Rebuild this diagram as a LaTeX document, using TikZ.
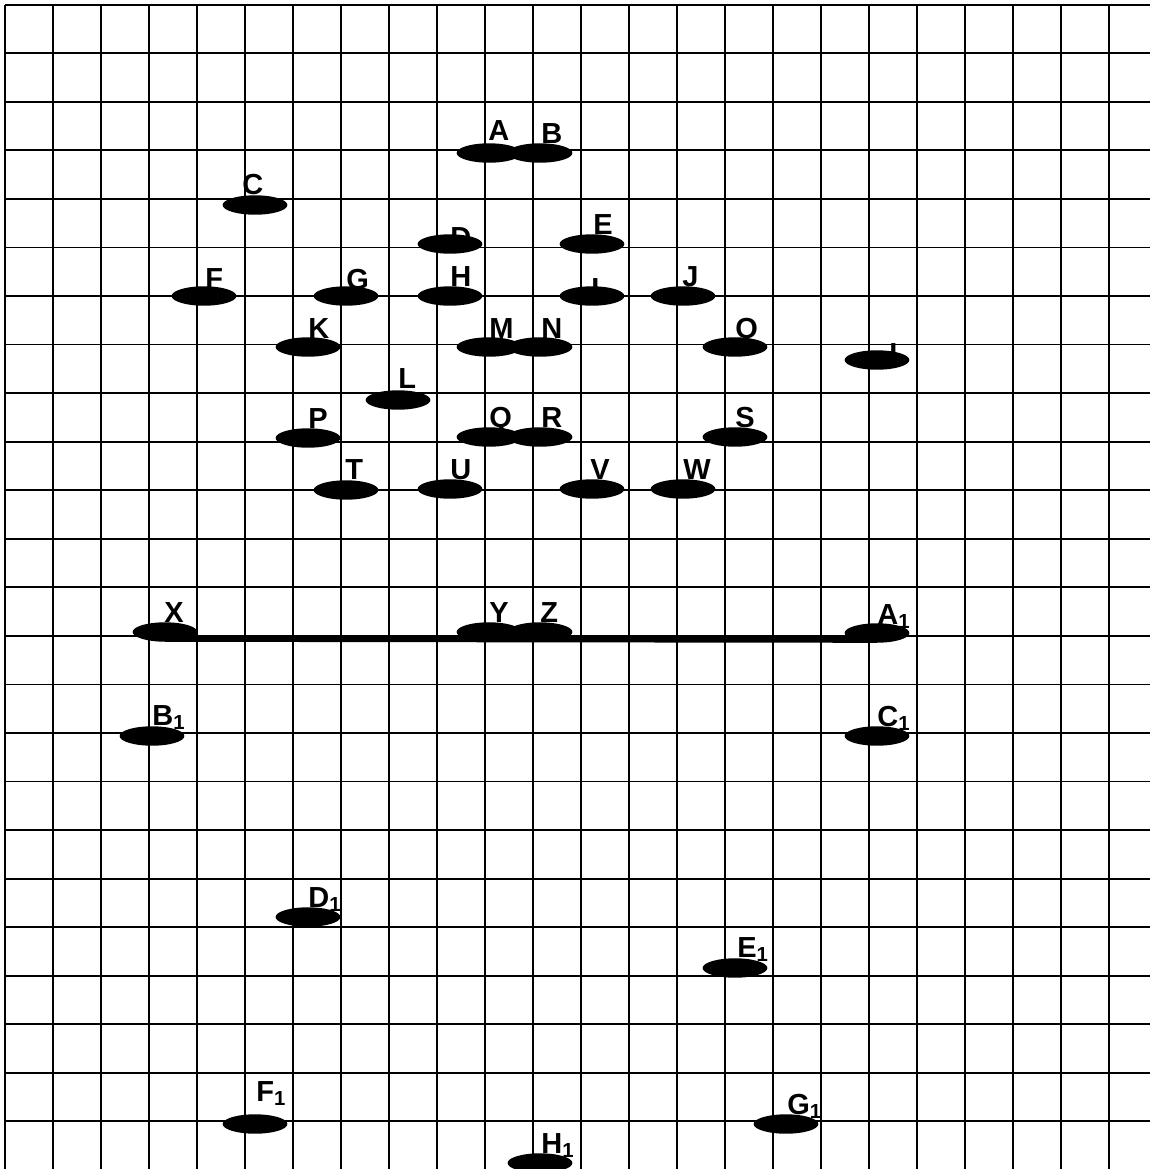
\documentclass[tikz,border=0pt]{standalone}
\usepackage{fontspec}
\setmainfont{Liberation Sans}
\usetikzlibrary{shapes.geometric}

\begin{document}
\begin{tikzpicture}[x=0.5pt, y=-0.5pt,
    gridline/.style={line width=0.9pt},
    spot/.style={draw=none, fill=black, ellipse, inner sep=0pt, minimum width=32.4pt, minimum height=9.7pt},
    spotlabel/.style={anchor=base west, inner sep=0pt, font=\fontsize{14.5}{17}\selectfont\bfseries}]
    \useasboundingbox (0,0) rectangle (1150,1169);
    % grid
    \foreach \i in {0,...,23} \draw[gridline] ({5+48*\i},4.7) -- ({5+48*\i},1172);
    \foreach \j in {0,...,24} \draw[gridline] (5,{4.7+48.55*\j}) -- (1152,{4.7+48.55*\j});

    \node[spotlabel] (A-l) at (488,140) {A};
    \node[spot] (A) at (489,153) {};
    \node[spotlabel] (B-l) at (541,143) {B};
    \node[spot] (B) at (540,153) {};
    \node[spotlabel] (C-l) at (242,194) {C};
    \node[spot] (C) at (255,205) {};
    \node[spotlabel] (D-l) at (450,247) {D};
    \node[spot] (D) at (450,244) {};
    \node[spotlabel] (E-l) at (593,234) {E};
    \node[spot] (E) at (592,244) {};
    \node[spotlabel] (F-l) at (205,288) {F};
    \node[spot] (F) at (204,296) {};
    \node[spotlabel] (G-l) at (346,289) {G};
    \node[spot] (G) at (346,296) {};
    \node[spotlabel] (H-l) at (450,286) {H};
    \node[spot] (H) at (450,296) {};
    \node[spotlabel] (I-l) at (591,298) {I};
    \node[spot] (I) at (592,296) {};
    \node[spotlabel] (J-l) at (682,286) {J};
    \node[spot] (J) at (683,296) {};
    \node[spotlabel] (K-l) at (308,338) {K};
    \node[spot] (K) at (308,347) {};
    \node[spotlabel] (L-l) at (398,388) {L};
    \node[spot] (L) at (398,400) {};
    \node[spotlabel] (M-l) at (489,338) {M};
    \node[spot] (M) at (489,347) {};
    \node[spotlabel] (N-l) at (541,338) {N};
    \node[spot] (N) at (540,347) {};
    \node[spotlabel] (O-l) at (735,338) {O};
    \node[spot] (O) at (735,347) {};
    \node[spotlabel] (L2-l) at (889,363) {L};
    \node[spot] (L2) at (877,360) {};
    \node[spotlabel] (P-l) at (308,428) {P};
    \node[spot] (P) at (308,438) {};
    \node[spotlabel] (Q-l) at (489,427) {Q};
    \node[spot] (Q) at (489,437) {};
    \node[spotlabel] (R-l) at (541,427) {R};
    \node[spot] (R) at (540,437) {};
    \node[spotlabel] (S-l) at (735,427) {S};
    \node[spot] (S) at (735,437) {};
    \node[spotlabel] (T-l) at (345,479) {T};
    \node[spot] (T) at (346,490) {};
    \node[spotlabel] (U-l) at (450,479) {U};
    \node[spot] (U) at (450,489) {};
    \node[spotlabel] (V-l) at (590,479) {V};
    \node[spot] (V) at (592,489) {};
    \node[spotlabel] (W-l) at (683,479) {W};
    \node[spot] (W) at (683,489) {};
    \node[spotlabel] (X-l) at (164,622) {X};
    \node[spot] (X) at (165,632) {};
    \node[spotlabel] (Y-l) at (489,622) {Y};
    \node[spot] (Y) at (489,632) {};
    \node[spotlabel] (Z-l) at (540,622) {Z};
    \node[spot] (Z) at (540,632) {};
    \node[spotlabel] (A1-l) at (877,624) {A\textsubscript{1}};
    \node[spot] (A1) at (877,633) {};
    \node[spotlabel] (B1-l) at (152,725) {B\textsubscript{1}};
    \node[spot] (B1) at (152,736) {};
    \node[spotlabel] (C1-l) at (877,726) {C\textsubscript{1}};
    \node[spot] (C1) at (877,736) {};
    \node[spotlabel] (D1-l) at (308,907) {D\textsubscript{1}};
    \node[spot] (D1) at (308,917) {};
    \node[spotlabel] (E1-l) at (737,957) {E\textsubscript{1}};
    \node[spot] (E1) at (735,968) {};
    \node[spotlabel] (F1-l) at (256,1101) {F\textsubscript{1}};
    \node[spot] (F1) at (255,1124) {};
    \node[spotlabel] (G1-l) at (787,1114) {G\textsubscript{1}};
    \node[spot] (G1) at (786,1124) {};
    \node[spotlabel] (H1-l) at (541,1153) {H\textsubscript{1}};
    \node[spot] (H1) at (540,1163) {};

    \draw[line width=3.4pt] ([yshift=-3.2pt]X.center) -- ([yshift=-3.2pt]A1.center);
\end{tikzpicture}
\end{document}
